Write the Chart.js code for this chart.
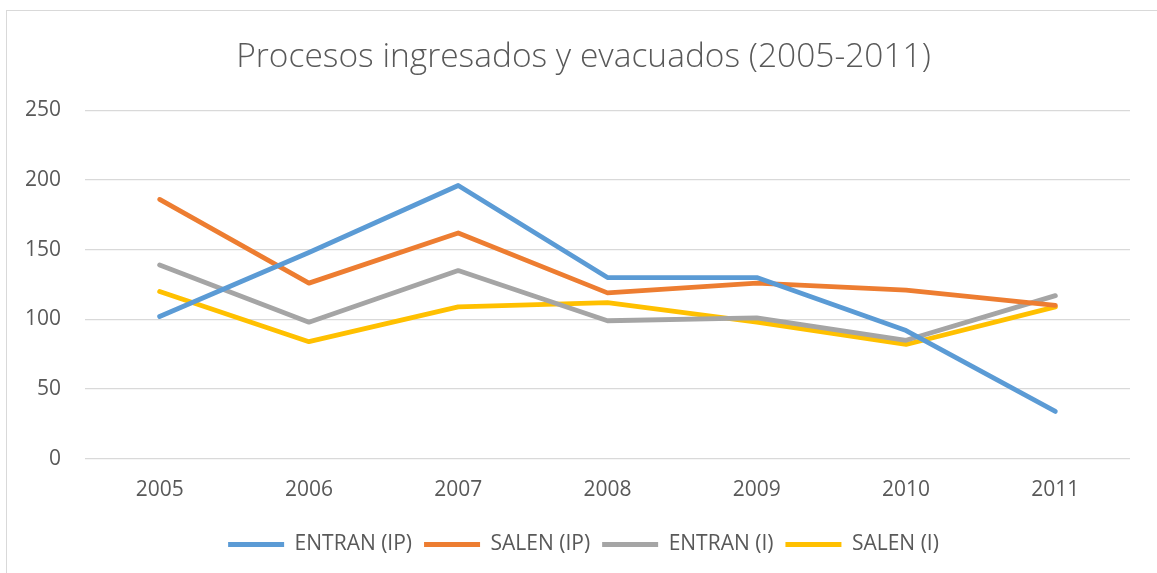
<!DOCTYPE html>
<html>
<head>
<meta charset="utf-8">
<script src="https://cdn.jsdelivr.net/npm/chart.js@4.4.0/dist/chart.umd.min.js"></script>
<style>
  html, body { margin: 0; padding: 0; background: #ffffff; overflow: hidden; }
  #wrap { position: relative; width: 1157px; height: 573px; }
  #frame {
    position: absolute; left: 6px; top: 10px; width: 1200px; height: 620px;
    border: 1px solid #d9d9d9; pointer-events: none;
  }
</style>
</head>
<body>
<div id="wrap">
  <canvas id="chart" width="1157" height="573"></canvas>
  <div id="frame"></div>
</div>
<script>
// Data
const years = ["2005", "2006", "2007", "2008", "2009", "2010", "2011"];
const entranIP = [102, 148, 196, 130, 130, 92, 34];
const salenIP = [186, 126, 162, 119, 126, 121, 110];
const entranI = [139, 98, 135, 99, 101, 85, 117];
const salenI = [120, 84, 109, 112, 98, 82, 109];

const seriesNames = ["ENTRAN (IP)", "SALEN (IP)", "ENTRAN (I)", "SALEN (I)"];
const seriesColors = ["#5B9BD5", "#ED7D31", "#A5A5A5", "#FFC000"];

const yMin = 0;
const yMax = 250;
const yStep = 50;

const textColor = "#595959";
const gridColor = "#d9d9d9";
const fontFamily = "'Open Sans', sans-serif";

const makeSet = (label, data, color) => ({
  label: label,
  data: data,
  borderColor: color,
  backgroundColor: color,
  borderWidth: 4.8,
  borderCapStyle: "round",
  borderJoinStyle: "round",
  pointRadius: 0,
  pointHoverRadius: 0,
  tension: 0,
  fill: false
});

new Chart(document.getElementById("chart"), {
  type: "line",
  data: {
    labels: years,
    datasets: [
      makeSet(seriesNames[0], entranIP, seriesColors[0]),
      makeSet(seriesNames[1], salenIP, seriesColors[1]),
      makeSet(seriesNames[2], entranI, seriesColors[2]),
      makeSet(seriesNames[3], salenI, seriesColors[3])
    ]
  },
  options: {
    responsive: false,
    animation: false,
    layout: { padding: { left: 10, right: 0, top: 0, bottom: 8 } },
    plugins: {
      title: {
        display: true,
        text: "Procesos ingresados y evacuados (2005-2011)",
        color: textColor,
        font: { family: fontFamily, size: 33.5, weight: "300" },
        padding: { top: 37, bottom: 33 }
      },
      legend: {
        position: "bottom",
        labels: {
          usePointStyle: true,
          pointStyle: "line",
          pointStyleWidth: 56,
          color: textColor,
          padding: 12,
          font: { family: fontFamily, size: 21 }
        }
      },
      tooltip: { enabled: false }
    },
    scales: {
      x: {
        offset: true,
        grid: { display: false, drawTicks: false },
        border: { display: false },
        ticks: {
          color: textColor,
          padding: 19,
          font: { family: fontFamily, size: 21 }
        }
      },
      y: {
        min: yMin,
        max: yMax,
        grid: { color: gridColor, lineWidth: 1.3, drawTicks: false },
        border: { display: false },
        ticks: {
          stepSize: yStep,
          color: textColor,
          padding: 24,
          font: { family: fontFamily, size: 21 }
        },
        afterFit: (scale) => { scale.width = 75; }
      },
      // empty right-hand axis, only keeps the plot's right margin
      yRight: {
        position: "right",
        min: yMin,
        max: yMax,
        grid: { display: false, drawTicks: false },
        border: { display: false },
        ticks: { display: false },
        afterFit: (scale) => { scale.width = 27; }
      }
    }
  }
});
</script>
</body>
</html>
